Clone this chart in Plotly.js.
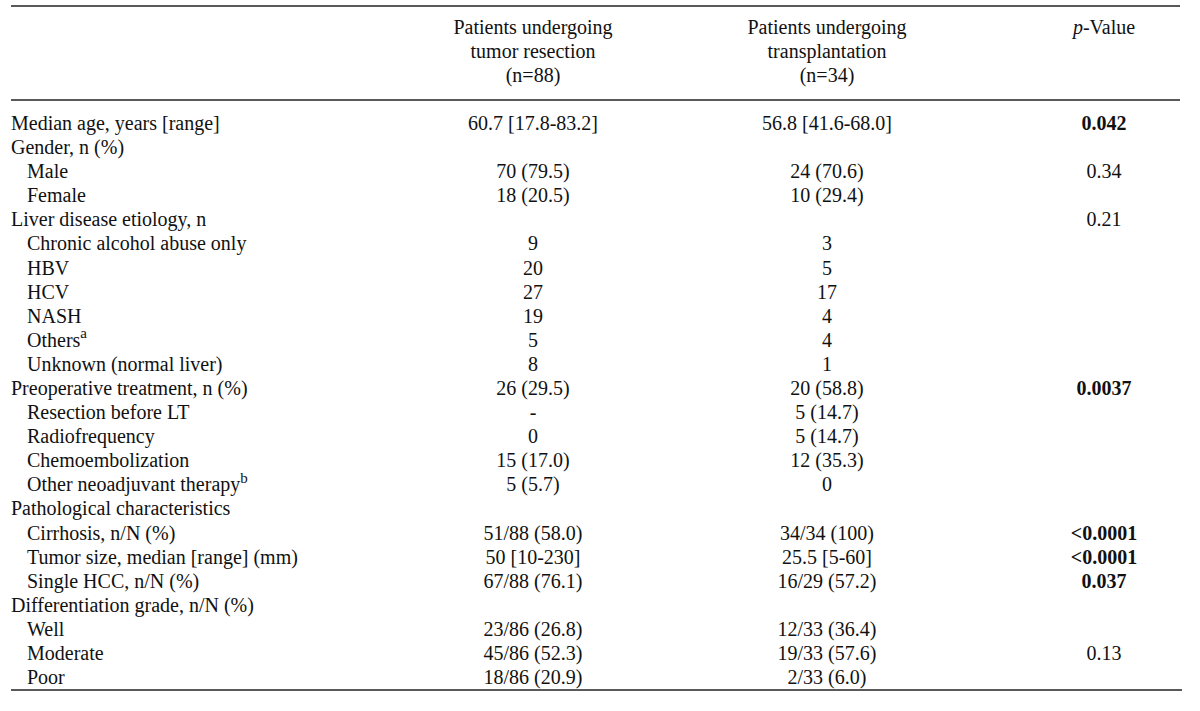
<!DOCTYPE html>
<html>
<head>
<meta charset="utf-8">
<script src="https://cdn.plot.ly/plotly-3.0.1.min.js"></script>
<style>html,body{margin:0;padding:0;background:#fff;}#chart{width:1200px;height:711px;}</style>
</head>
<body>
<div id="chart"></div>
<script>
// ---- data ----
var rowLabels = [
  "Median age, years [range]", "Gender, n (%)", "Male", "Female",
  "Liver disease etiology, n", "Chronic alcohol abuse only", "HBV", "HCV", "NASH",
  "Others<sup>a</sup>", "Unknown (normal liver)", "Preoperative treatment, n (%)",
  "Resection before LT", "Radiofrequency", "Chemoembolization",
  "Other neoadjuvant therapy<sup>b</sup>", "Pathological characteristics",
  "Cirrhosis, n/N (%)", "Tumor size, median [range] (mm)", "Single HCC, n/N (%)",
  "Differentiation grade, n/N (%)", "Well", "Moderate", "Poor"
];
var rowIndented = [0,0,1,1,0,1,1,1,1,1,1,0,1,1,1,1,0,1,1,1,0,1,1,1];
var resectionValues = [
  "60.7 [17.8-83.2]", "", "70 (79.5)", "18 (20.5)", "", "9", "20", "27", "19", "5", "8",
  "26 (29.5)", "-", "0", "15 (17.0)", "5 (5.7)", "", "51/88 (58.0)", "50 [10-230]",
  "67/88 (76.1)", "", "23/86 (26.8)", "45/86 (52.3)", "18/86 (20.9)"
];
var transplantValues = [
  "56.8 [41.6-68.0]", "", "24 (70.6)", "10 (29.4)", "", "3", "5", "17", "4", "4", "1",
  "20 (58.8)", "5 (14.7)", "5 (14.7)", "12 (35.3)", "0", "", "34/34 (100)", "25.5 [5-60]",
  "16/29 (57.2)", "", "12/33 (36.4)", "19/33 (57.6)", "2/33 (6.0)"
];
var pValues = [
  "0.042", "", "0.34", "", "0.21", "", "", "", "", "", "",
  "0.0037", "", "", "", "", "", "<0.0001", "<0.0001", "0.037", "", "", "0.13", ""
];
var pBold = [1,0,0,0,0,0,0,0,0,0,0,1,0,0,0,0,0,1,1,1,0,0,0,0];
var headerResection = ["Patients undergoing", "tumor resection", "(n=88)"];
var headerTransplant = ["Patients undergoing", "transplantation", "(n=34)"];
var headerP = ["<i>p</i>-Value"];

// ---- layout helpers ----
var FONT = {family: "'Liberation Serif', 'Times New Roman', serif", size: 20, color: "#111"};
var X_LEFT = 11, X_INDENT = 27, X_C2 = 533, X_C3 = 827, X_C4 = 1104;
function esc(s){ return s.replace(/</g, "&lt;").replace(/&lt;(\/?)(sup|i|b)>/g, "<$1$2>"); }

var rows = rowLabels.map(function(_, i){ return i; });
var headerRows = [-4, -3, -2];

function textTrace(xFor, ys, texts, pos){
  var keep = texts.map(function(t, i){ return i; }).filter(function(i){ return texts[i] !== ""; });
  return {type: "scatter", mode: "text",
    x: keep.map(function(i){ return xFor(i); }),
    y: keep.map(function(i){ return ys[i]; }),
    text: keep.map(function(i){ return texts[i]; }),
    textposition: pos, textfont: FONT, hoverinfo: "skip", showlegend: false, cliponaxis: false};
}
function sup(s){ return s.replace(/<sup>(.*?)<\/sup>/g, '<sup><span style="font-size:15px">$1</span></sup>'); }

var traces = [
  textTrace(function(i){ return rowIndented[i] ? X_INDENT : X_LEFT; }, rows,
    rowLabels.map(sup), "middle right"),
  textTrace(function(){ return X_C2; }, rows, resectionValues.map(esc), "middle center"),
  textTrace(function(){ return X_C3; }, rows, transplantValues.map(esc), "middle center"),
  textTrace(function(){ return X_C4; }, rows,
    pValues.map(function(v, i){ return v === "" ? "" : (pBold[i] ? "<b>" + esc(v) + "</b>" : esc(v)); }),
    "middle center"),
  textTrace(function(){ return X_C2; }, headerRows, headerResection, "middle center"),
  textTrace(function(){ return X_C3; }, headerRows, headerTransplant, "middle center"),
  textTrace(function(){ return X_C4; }, headerRows, headerP, "middle center")
];

var LINE = {color: "#222", width: 1.5};
var layout = {
  width: 1200, height: 711,
  margin: {l: 0, r: 0, t: 0, b: 0},
  paper_bgcolor: "#fff", plot_bgcolor: "#fff",
  xaxis: {range: [0, 1200], visible: false, fixedrange: true},
  yaxis: {range: [24.325, -5.189], visible: false, fixedrange: true},
  shapes: [
    {type: "line", xref: "x", yref: "y", x0: 11, x1: 1180, y0: -4.94, y1: -4.94, line: LINE},
    {type: "line", xref: "x", yref: "y", x0: 11, x1: 1180, y0: -1.04, y1: -1.04, line: LINE},
    {type: "line", xref: "x", yref: "y", x0: 11, x1: 1182, y0: 23.45, y1: 23.45, line: LINE}
  ],
  showlegend: false
};

Plotly.newPlot("chart", traces, layout, {staticPlot: true, displayModeBar: false});
</script>
</body>
</html>
